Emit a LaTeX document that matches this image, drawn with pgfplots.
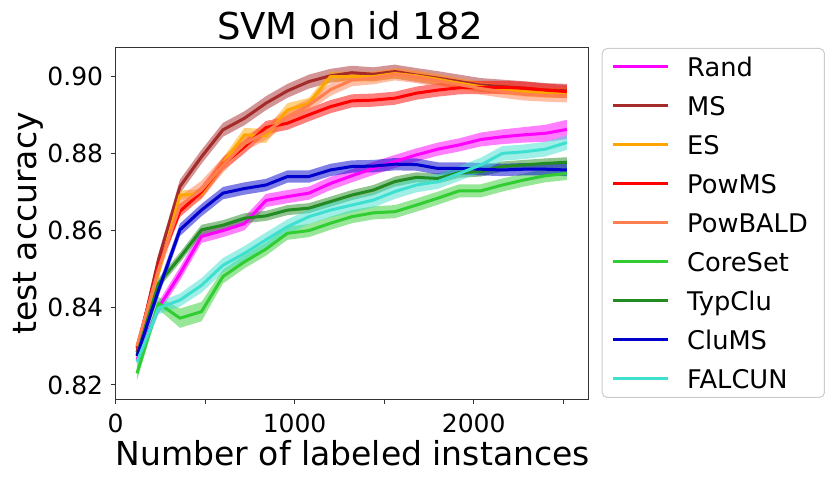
\documentclass[border=0pt]{standalone}
\usepackage{pgfplots}
\pgfplotsset{compat=1.18}
\usepackage{pgfplotstable}
\usepgfplotslibrary{fillbetween}
\usepackage{fontspec}
\setmainfont{DejaVu Sans}
\definecolor{cRa}{HTML}{FF00FF}
\definecolor{cMS}{HTML}{A52A2A}
\definecolor{cES}{HTML}{FFA500}
\definecolor{cPM}{HTML}{FF0000}
\definecolor{cPB}{HTML}{FF7F50}
\definecolor{cCS}{HTML}{32CD32}
\definecolor{cTC}{HTML}{228B22}
\definecolor{cCM}{HTML}{0000CD}
\definecolor{cFA}{HTML}{40E0D0}
\pgfplotstableread{
X    Ra     eRa   MS     eMS   ES     eES   PM     ePM   PB     ePB   CS     eCS   TC     eTC   CM     eCM   FA     eFA
120  0.8265 .0012 0.8285 .0013 0.8300 .0010 0.8295 .0013 0.8300 .0015 0.8230 .0018 0.8278 .0012 0.8275 .0013 0.8260 .0018
240  0.8400 .0015 0.8525 .0015 0.8490 .0010 0.8510 .0013 0.8500 .0020 0.8412 .0016 0.8463 .0013 0.8445 .0016 0.8399 .0016
360  0.8488 .0017 0.8714 .0018 0.8692 .0012 0.8650 .0015 0.8665 .0024 0.8373 .0025 0.8530 .0013 0.8602 .0016 0.8420 .0017
480  0.8585 .0017 0.8791 .0018 0.8695 .0012 0.8700 .0016 0.8705 .0024 0.8390 .0025 0.8602 .0013 0.8653 .0016 0.8458 .0019
600  0.8600 .0017 0.8861 .0018 0.8774 .0015 0.8772 .0017 0.8770 .0020 0.8481 .0018 0.8614 .0013 0.8697 .0016 0.8510 .0019
720  0.8618 .0017 0.8891 .0018 0.8848 .0018 0.8817 .0017 0.8825 .0020 0.8519 .0017 0.8632 .0013 0.8709 .0016 0.8541 .0019
840  0.8678 .0017 0.8930 .0018 0.8845 .0018 0.8867 .0017 0.8855 .0020 0.8552 .0017 0.8638 .0013 0.8718 .0016 0.8576 .0019
960  0.8688 .0017 0.8962 .0018 0.8912 .0018 0.8878 .0017 0.8895 .0020 0.8593 .0017 0.8653 .0013 0.8740 .0016 0.8610 .0019
1080 0.8697 .0017 0.8986 .0018 0.8930 .0014 0.8900 .0017 0.8925 .0016 0.8600 .0017 0.8658 .0013 0.8740 .0016 0.8636 .0019
1200 0.8722 .0017 0.9001 .0018 0.8999 .0013 0.8921 .0017 0.8965 .0016 0.8619 .0017 0.8675 .0013 0.8757 .0016 0.8653 .0019
1320 0.8742 .0017 0.9009 .0018 0.8999 .0013 0.8936 .0017 0.8990 .0016 0.8636 .0017 0.8692 .0013 0.8766 .0016 0.8666 .0019
1440 0.8761 .0017 0.9005 .0018 0.8999 .0013 0.8938 .0017 0.8995 .0016 0.8646 .0017 0.8705 .0013 0.8767 .0016 0.8679 .0019
1560 0.8779 .0017 0.9012 .0018 0.9007 .0013 0.8943 .0017 0.9005 .0016 0.8649 .0017 0.8727 .0013 0.8772 .0016 0.8701 .0019
1680 0.8796 .0017 0.9003 .0018 0.9001 .0013 0.8956 .0017 0.8998 .0016 0.8666 .0017 0.8738 .0013 0.8771 .0016 0.8718 .0019
1800 0.8811 .0017 0.8995 .0018 0.8992 .0013 0.8964 .0017 0.8988 .0016 0.8684 .0017 0.8735 .0013 0.8761 .0016 0.8727 .0019
1920 0.8822 .0017 0.8986 .0018 0.8982 .0013 0.8970 .0017 0.8978 .0016 0.8703 .0017 0.8750 .0013 0.8761 .0016 0.8748 .0019
2040 0.8836 .0018 0.8977 .0018 0.8973 .0013 0.8971 .0017 0.8968 .0016 0.8703 .0017 0.8753 .0013 0.8759 .0016 0.8770 .0019
2160 0.8843 .0019 0.8973 .0018 0.8966 .0013 0.8971 .0017 0.8960 .0016 0.8718 .0017 0.8766 .0013 0.8757 .0016 0.8800 .0019
2280 0.8848 .0020 0.8969 .0018 0.8960 .0013 0.8969 .0017 0.8953 .0016 0.8731 .0017 0.8770 .0013 0.8759 .0016 0.8804 .0019
2400 0.8852 .0022 0.8964 .0018 0.8957 .0013 0.8964 .0017 0.8950 .0016 0.8742 .0017 0.8774 .0013 0.8759 .0016 0.8811 .0019
2520 0.8862 .0025 0.8962 .0018 0.8957 .0013 0.8960 .0017 0.8948 .0016 0.8748 .0017 0.8777 .0013 0.8757 .0016 0.8828 .0019
}\data
\newcommand{\oneseries}[3]{%
  \addplot[draw=#1, line width=3pt, line join=round] table[x=X, y=#2] {\data};
  \addlegendentry{#3}
  \addplot[draw=none, forget plot, name path=#2u] table[x=X, y expr=\thisrow{#2}+\thisrow{e#2}] {\data};
  \addplot[draw=none, forget plot, name path=#2l] table[x=X, y expr=\thisrow{#2}-\thisrow{e#2}] {\data};
  \addplot[fill=#1, fill opacity=0.5, draw=none, forget plot] fill between[of=#2u and #2l];
}
\begin{document}
\begin{tikzpicture}
\begin{axis}[
  at={(115.5pt,82.5pt)}, anchor=south west,
  scale only axis, width=472.8pt, height=352pt,
  xmin=0, xmax=2640, ymin=0.81624, ymax=0.90743,
  xtick={0,500,1000,1500,2000,2500},
  xticklabels={0,{},1000,{},2000,{}},
  ytick={0.82,0.84,0.86,0.88,0.90},
  yticklabels={0.82,0.84,0.86,0.88,0.90},
  tick align=outside, major tick length=4.5pt,
  tick style={black!80, line width=1pt},
  xtick pos=bottom, ytick pos=left,
  axis line style={black!80, line width=1.1pt},
  ticklabel style={font=\fontsize{25}{30}\selectfont, inner sep=0pt},
  xticklabel style={anchor=north, yshift=-9.3pt},
  yticklabel style={anchor=east, xshift=-7.7pt},
  every axis title/.style={at={(axis description cs:0.4966,1.0233)}, anchor=base, font=\fontsize{37}{44}\selectfont},
  title={SVM on id 182},
  every axis x label/.style={at={(axis description cs:0.502,-0.1861)}, anchor=base, font=\fontsize{33}{40}\selectfont},
  xlabel={Number of labeled instances},
  every axis y label/.style={at={(axis description cs:-0.1671,0.5)}, anchor=base, rotate=90, font=\fontsize{33}{40}\selectfont},
  ylabel={test accuracy},
  legend cell align=left,
  legend style={at={(axis description cs:1.0283,0.9986)}, anchor=north west,
    draw=black!20, line width=1pt, rounded corners=5pt, fill=white,
    inner xsep=9.3pt, inner ysep=6pt, row sep=14pt,
    font=\fontsize{25.7}{30}\selectfont,
    nodes={inner sep=0pt, text height=22.5pt, text depth=2.5pt, text width=128pt, align=left},
    /tikz/every odd column/.append style={column sep=17.7pt}},
  legend image code/.code={\draw[line width=3pt,#1] (0pt,0pt) -- (55pt,0pt);},
]
\oneseries{cRa}{Ra}{Rand}
\oneseries{cMS}{MS}{MS}
\oneseries{cES}{ES}{ES}
\oneseries{cPM}{PM}{PowMS}
\oneseries{cPB}{PB}{PowBALD}
\oneseries{cCS}{CS}{CoreSet}
\oneseries{cTC}{TC}{TypClu}
\oneseries{cCM}{CM}{CluMS}
\oneseries{cFA}{FA}{FALCUN}
\end{axis}
\pgfresetboundingbox
\path[use as bounding box] (0,0) rectangle (831pt,482pt);
\end{tikzpicture}
\end{document}
